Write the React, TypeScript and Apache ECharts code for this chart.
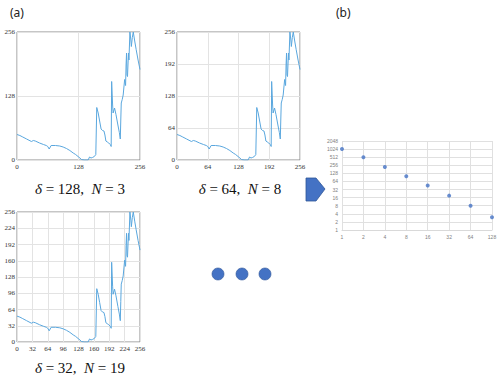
import React, { useEffect, useRef } from "react";
import * as echarts from "echarts";

// Profile curve (same signal shown at three resolutions)
const profileX = [0, 6, 12, 20, 30, 34, 38, 47, 55, 61, 64, 67, 71, 80, 89, 96, 103, 110, 117, 122, 127, 131, 134, 140, 144, 148, 151, 154, 157, 161, 164, 166, 169, 172, 175, 178, 181, 183, 185, 188, 191, 194, 196, 197, 199, 200, 203, 206, 210, 213, 215, 216, 217, 219, 221, 224, 226, 227, 228, 229, 230, 232, 233, 235, 237, 238, 240, 242, 245, 248, 252, 256];
const profileY = [51, 49, 46, 42, 37, 39, 38, 34, 31, 29, 27, 22, 29, 29, 28, 26, 23, 19, 14, 11, 7, 4, 1, 0, 0, 0, 6, 4, 5, 7, 11, 105, 94, 78, 62, 59, 58, 50, 38, 36, 34, 31, 27, 157, 110, 94, 104, 91, 70, 55, 42, 80, 114, 121, 130, 161, 149, 190, 214, 170, 167, 214, 200, 256, 240, 227, 245, 256, 238, 221, 200, 181];

// Panel (a) settings
const deltas = [128, 64, 32];
const counts = [3, 8, 19];

// Panel (b): delta vs N (log2 scales)
const deltaValues = [1, 2, 4, 8, 16, 32, 64, 128];
const nValues = [1024, 512, 220, 100, 45, 19, 8, 3];

const LINE = "#5aa7de";
const serif = "'Liberation Serif', 'DejaVu Serif', serif";

export default function App() {
  const ref = useRef<HTMLDivElement>(null);
  useEffect(() => {
    if (!ref.current) return;
    const chart = echarts.init(ref.current, null, { renderer: "svg" });
    const profile = profileX.map((x, i) => [x, profileY[i]]);

    const gridsA = [
      { left: 17, top: 32, width: 123, height: 128 },
      { left: 177, top: 32, width: 123, height: 128 },
      { left: 17, top: 212, width: 123, height: 130 },
    ];
    const grids: any[] = gridsA.map((g) => ({
      ...g,
      show: true,
      borderColor: "#8c8c8c",
      borderWidth: 1,
      backgroundColor: "#fff",
    }));
    grids.push({ left: 342, top: 141, width: 150, height: 89, show: false });

    const plain = (v: number) => String(Math.round(v));

    const xAxes: any[] = deltas.map((d, i) => ({
      type: "value",
      gridIndex: i,
      min: 0,
      max: 256,
      interval: d === 128 ? 128 : d,
      axisLine: { show: false },
      axisTick: { show: false },
      splitLine: { show: true, lineStyle: { color: "#e3e3e3", width: 1 } },
      axisLabel: { fontFamily: serif, fontSize: 7, color: "#333", margin: 3 },
    }));
    const yAxes: any[] = deltas.map((d, i) => ({
      type: "value",
      gridIndex: i,
      min: 0,
      max: 256,
      interval: d,
      axisLine: { show: false },
      axisTick: { show: false },
      splitLine: { show: true, lineStyle: { color: "#e3e3e3", width: 1 } },
      axisLabel: { fontFamily: serif, fontSize: 7, color: "#333", margin: 2 },
    }));
    xAxes.push({
      type: "log",
      logBase: 2,
      gridIndex: 3,
      min: 1,
      max: 128,
      interval: 1,
      axisLine: { show: true, lineStyle: { color: "#d9d9d9" } },
      axisTick: { show: false },
      splitLine: { show: true, lineStyle: { color: "#e0e0e0", width: 1 } },
      axisLabel: { fontSize: 5, color: "#7f7f7f", margin: 4, fontFamily: "'Liberation Sans', sans-serif", formatter: plain },
    });
    yAxes.push({
      type: "log",
      logBase: 2,
      gridIndex: 3,
      min: 1,
      max: 2048,
      interval: 1,
      axisLine: { show: false },
      axisTick: { show: false },
      splitLine: { show: true, lineStyle: { color: "#e0e0e0", width: 1 } },
      axisLabel: { fontSize: 5, color: "#7f7f7f", margin: 4, fontFamily: "'Liberation Sans', sans-serif", formatter: plain },
    });

    const series: any[] = deltas.map((_, i) => ({
      type: "line",
      xAxisIndex: i,
      yAxisIndex: i,
      data: profile,
      showSymbol: false,
      lineStyle: { color: LINE, width: 1 },
    }));
    series.push({
      type: "scatter",
      xAxisIndex: 3,
      yAxisIndex: 3,
      data: deltaValues.map((d, i) => [d, nValues[i]]),
      symbolSize: 4,
      itemStyle: { color: "#4472c4" },
    });

    const capPos = [
      [80, 189],
      [240, 189],
      [80, 368],
    ];
    const captions = deltas.map((d, i) => ({
      type: "text",
      x: capPos[i][0],
      y: capPos[i][1],
      style: {
        text: `{i|δ}{n| = ${d},  }{i|N}{n| = ${counts[i]}}`,
        align: "center",
        verticalAlign: "middle",
        rich: {
          i: { fontFamily: serif, fontStyle: "italic", fontSize: 15, fill: "#111" },
          n: { fontFamily: serif, fontSize: 15, fill: "#111" },
        },
      },
    }));

    chart.setOption({
      animation: false,
      backgroundColor: "#fff",
      grid: grids,
      xAxis: xAxes,
      yAxis: yAxes,
      series,
      graphic: [
        ...captions,
        {
          type: "text",
          x: 10,
          y: 12,
          style: { text: "(a)", fontSize: 12, fontFamily: "'Noto Sans', sans-serif", fill: "#222", verticalAlign: "middle" },
        },
        {
          type: "text",
          x: 336,
          y: 12,
          style: { text: "(b)", fontSize: 12, fontFamily: "'Noto Sans', sans-serif", fill: "#222", verticalAlign: "middle" },
        },
        {
          type: "polygon",
          shape: {
            points: [
              [306, 178],
              [316, 178],
              [325, 189],
              [316, 201],
              [306, 201],
            ],
          },
          style: { fill: "#4472c4", stroke: "#2f5597", lineWidth: 0.8 },
        },
        { type: "circle", shape: { cx: 218, cy: 274, r: 6 }, style: { fill: "#4472c4", stroke: "#2f5597", lineWidth: 0.6 } },
        { type: "circle", shape: { cx: 242, cy: 274, r: 6 }, style: { fill: "#4472c4", stroke: "#2f5597", lineWidth: 0.6 } },
        { type: "circle", shape: { cx: 265, cy: 274, r: 6 }, style: { fill: "#4472c4", stroke: "#2f5597", lineWidth: 0.6 } },
      ],
    });
    return () => chart.dispose();
  }, []);
  return <div ref={ref} style={{ position: "fixed", left: 0, top: 0, width: 500, height: 379 }} />;
}
